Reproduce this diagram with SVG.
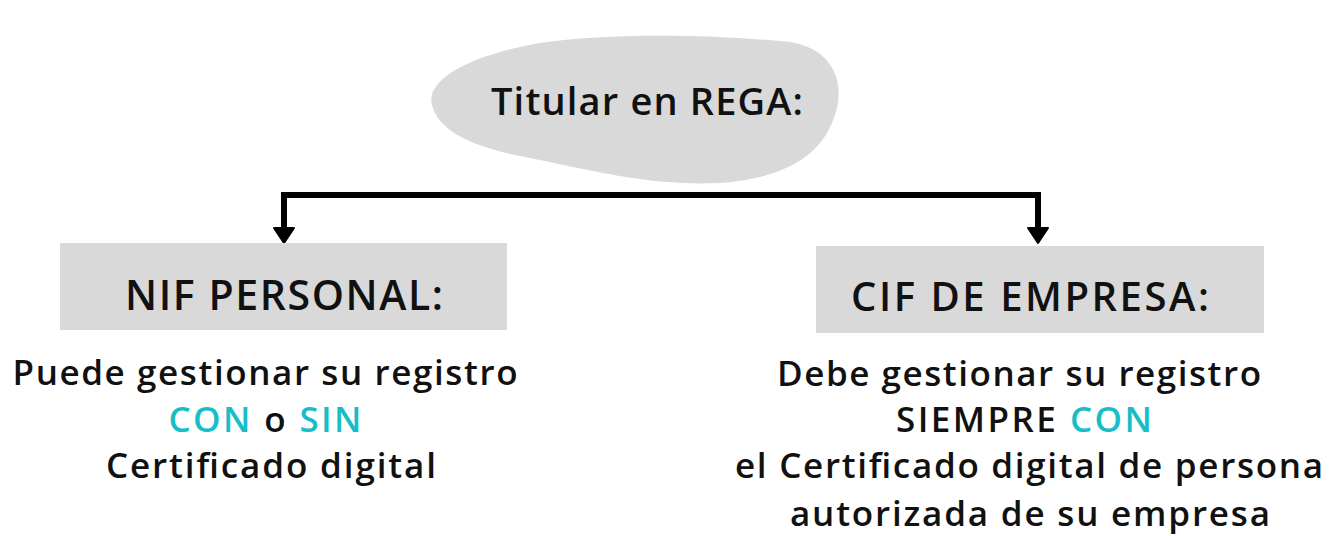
<svg xmlns="http://www.w3.org/2000/svg" width="1342" height="536" viewBox="0 0 1342 536">
<defs>
<style>
.t{font-family:"Open Sans","Noto Sans",sans-serif;font-weight:600;fill:#111;text-anchor:middle}
.b{font-size:35px}
.box{fill:#d9d9d9}
.hl{fill:#17bec8}
.c{stroke:#000;stroke-width:6;fill:none;stroke-linejoin:miter}
.ah{fill:#000;stroke:#000;stroke-width:2;stroke-linejoin:round}
</style>
</defs>
<rect width="1342" height="536" fill="#fff"/>
<g id="titular">
<path class="box" d="M432,105 C425,80 470,55 540,43 C610,32 720,35 790,42 C830,48 848,80 834,118 C822,152 790,178 720,183 C650,186 600,172 520,156 C470,146 438,130 432,105 Z"/>
<text class="t" x="647" y="115" font-size="38" textLength="312">Titular en REGA:</text>
</g>
<g id="connectors">
<path class="c" d="M284,234 L284,195 L1038,195 L1038,234"/>
<path class="ah" d="M274,228 L294,228 L284,243 Z"/>
<path class="ah" d="M1028,228 L1048,228 L1038,243 Z"/>
</g>
<g id="nif">
<rect class="box" x="60" y="243" width="447" height="87"/>
<text class="t" x="284" y="310" font-size="41" textLength="318">NIF PERSONAL:</text>
</g>
<g id="cif">
<rect class="box" x="816" y="246" width="448" height="87"/>
<text class="t" x="1030" y="311" font-size="40" textLength="358">CIF DE EMPRESA:</text>
</g>
<g id="nif-text">
<text class="t b" x="265" y="385" textLength="505">Puede gestionar su registro</text>
<text class="t b" x="265" y="432" textLength="193"><tspan class="hl">CON</tspan> o <tspan class="hl">SIN</tspan></text>
<text class="t b" x="271" y="478" textLength="330">Certificado digital</text>
</g>
<g id="cif-text">
<text class="t b" x="1019" y="386" textLength="484">Debe gestionar su registro</text>
<text class="t b" x="1024" y="432" textLength="256">SIEMPRE <tspan class="hl">CON</tspan></text>
<text class="t b" x="1029" y="478" textLength="588">el Certificado digital de persona</text>
<text class="t b" x="1030" y="526" textLength="480">autorizada de su empresa</text>
</g>
</svg>
